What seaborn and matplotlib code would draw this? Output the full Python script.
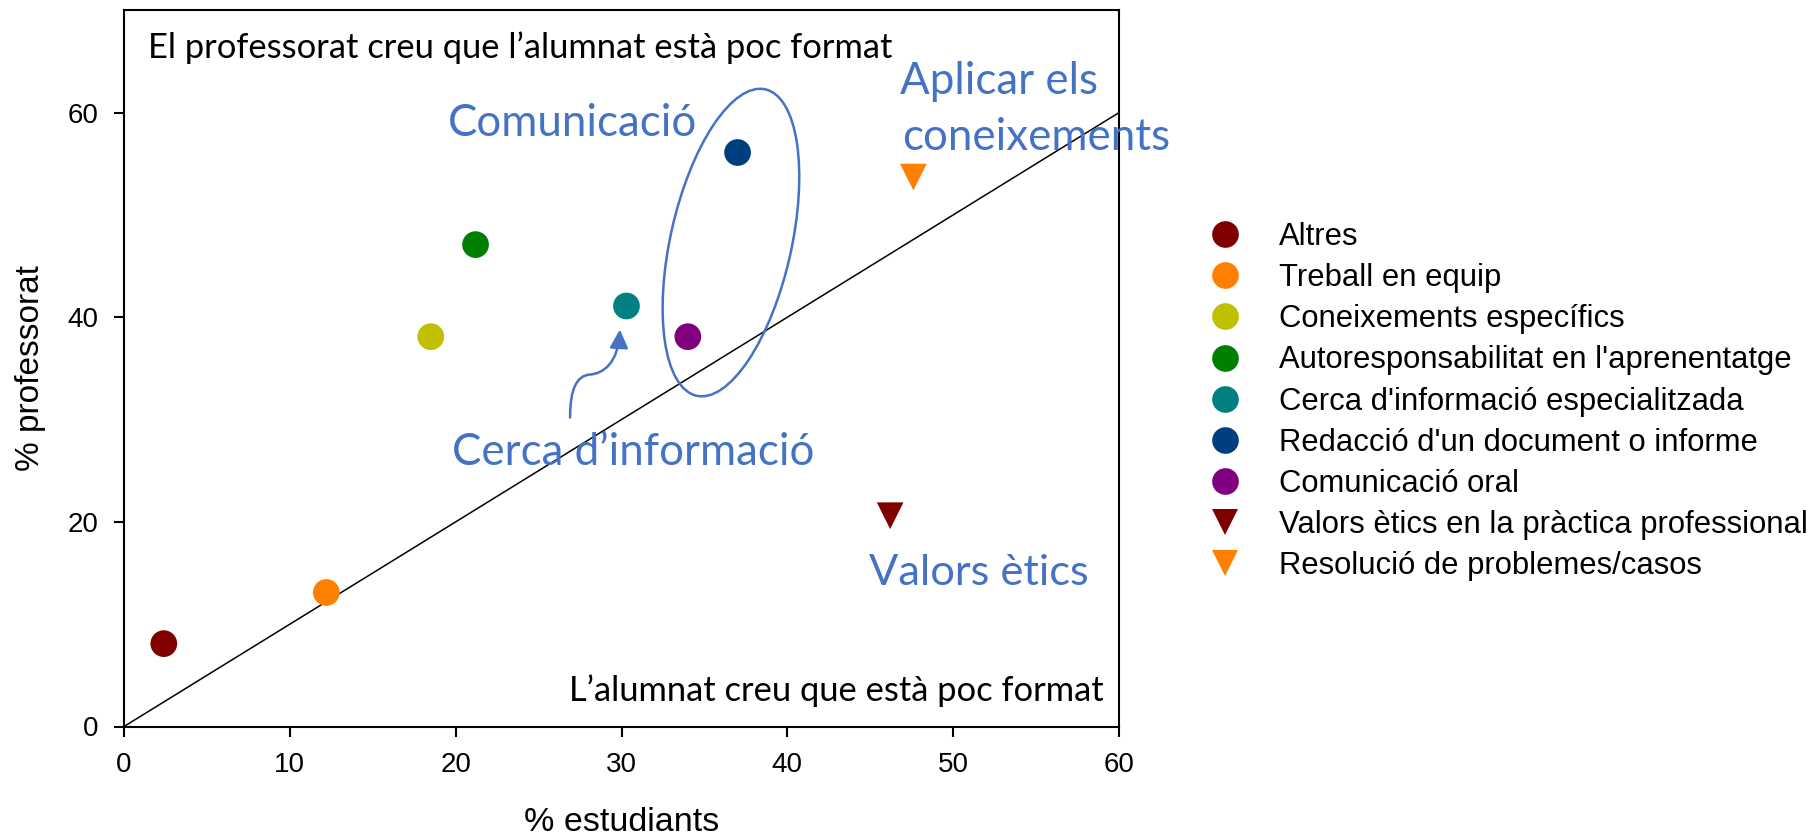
import matplotlib
matplotlib.use("Agg")
import numpy as np
import pandas as pd
import matplotlib.pyplot as plt
import seaborn as sns
from matplotlib.lines import Line2D
from matplotlib.patches import Ellipse, FancyArrowPatch
from matplotlib.path import Path
from matplotlib.transforms import Affine2D, ScaledTranslation

# dades llegides del grafic
competencies = ["Altres", "Treball en equip", "Coneixements específics",
                "Autoresponsabilitat en l'aprenentatge",
                "Cerca d'informació especialitzada",
                "Redacció d'un document o informe", "Comunicació oral",
                "Valors ètics en la pràctica professional",
                "Resolució de problemes/casos"]
estudiants = [2.4, 12.2, 18.5, 21.2, 30.3, 37.0, 34.0, 46.2, 47.6]
professorat = [8.1, 13.1, 38.1, 47.1, 41.1, 56.1, 38.1, 20.6, 53.7]
colors = ["#800000", "#FF8000", "#C0C000", "#008000", "#008080",
          "#003F7F", "#800080", "#800000", "#FF8000"]
markers = ["o"] * 7 + ["v"] * 2
diagonal = [0, 60]
xticks = [0, 10, 20, 30, 40, 50, 60]
yticks = [0, 20, 40, 60]

sns.set_theme(style="white")
plt.rcParams["font.family"] = ["Liberation Sans", "DejaVu Sans"]
plt.rcParams["text.color"] = "black"
blue = "#4472C4"
calibri = ["Lato", "DejaVu Sans"]

df = pd.DataFrame({"estudiants": estudiants, "professorat": professorat,
                   "competencia": competencies})

fig = plt.figure(figsize=(18.17, 8.4), dpi=100)
ax = fig.add_axes([124 / 1817, 1 - 726.5 / 840, 995 / 1817, 716.2 / 840])

ax.plot(diagonal, diagonal, color="black", lw=1.1, zorder=2)
sns.scatterplot(data=df, x="estudiants", y="professorat", hue="competencia",
                style="competencia", palette=dict(zip(competencies, colors)),
                markers=dict(zip(competencies, markers)), s=370, linewidth=0,
                legend=False, ax=ax, zorder=3)

ax.set_xlim(0, 60)
ax.set_ylim(0, 70)
ax.set_xticks(xticks)
ax.set_yticks(yticks)
for sp in ax.spines.values():
    sp.set_color("black")
    sp.set_linewidth(1.5)
ax.tick_params(bottom=True, left=True, direction="out", length=7.2, width=1.5,
               labelsize=20, pad=11, colors="black")
ax.set_xlabel("% estudiants", fontsize=24.5, labelpad=21, color="black")
ax.set_ylabel("% professorat", fontsize=24, labelpad=16, color="black")

# el·lipse al voltant de la comunicacio (en pixels de referencia)
ell_tr = Affine2D().scale(fig.dpi / 100) + ScaledTranslation(36.6, 47.3, ax.transData)
ax.add_patch(Ellipse((0, 0), width=121, height=314, angle=-12.65, fill=False,
                     edgecolor=blue, lw=1.8, transform=ell_tr, zorder=4))

# fletxa cap a "Cerca d'informacio"
arrow_path = Path([(26.9, 30.2), (26.9, 33.0), (27.3, 34.3), (28.1, 34.4),
                   (28.9, 34.5), (29.8, 35.5), (29.9, 38.8)],
                  [Path.MOVETO] + [Path.CURVE4] * 6)
ax.add_patch(FancyArrowPatch(path=arrow_path,
                             arrowstyle="-|>,head_length=0.8,head_width=0.4",
                             mutation_scale=14, color=blue, lw=1.8, zorder=4))

ax.text(19.5, 57.7, "Comunicació", fontsize=31.6, color=blue, family=calibri)
ax.text(19.8, 25.6, "Cerca d’informació", fontsize=31.6, color=blue, family=calibri)
ax.text(46.8, 61.8, "Aplicar els", fontsize=31.6, color=blue, family=calibri)
ax.text(46.9, 56.35, "coneixements", fontsize=31.6, color=blue, family=calibri)
ax.text(44.9, 13.8, "Valors ètics", fontsize=31.2, color=blue, family=calibri)
ax.text(1.45, 65.3, "El professorat creu que l’alumnat està poc format",
        fontsize=24.8, color="black", family=calibri)
ax.text(59.1, 2.5, "L’alumnat creu que està poc format", ha="right",
        fontsize=24.8, color="black", family=calibri)

handles = [Line2D([], [], ls="none", marker=m, color=c, markersize=19.2,
                  markeredgewidth=0) for c, m in zip(colors, markers)]
fig.legend(handles, competencies, loc="upper left",
           bbox_to_anchor=(1210 / 1817, 1 - 222 / 840), frameon=False,
           fontsize=22.3, handlelength=0.97, handletextpad=1.25,
           labelspacing=0.36, borderpad=0, borderaxespad=0, labelcolor="black")

fig.savefig("out.png", dpi=100)
